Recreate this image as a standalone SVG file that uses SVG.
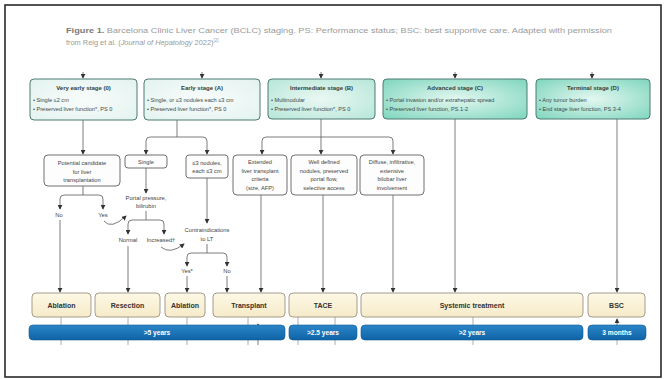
<svg xmlns="http://www.w3.org/2000/svg" width="667" height="379" viewBox="0 0 667 379">
<defs>
<style>
text{font-family:"Liberation Sans",Arial,sans-serif;}
.cap{font-size:7.4px;fill:#9a9a9a;}
.capb{font-weight:bold;fill:#7a7a7a;}
.st{stroke:#4d7a72;stroke-width:1;}
.stt{font-size:6px;font-weight:bold;fill:#2f3f3c;text-anchor:middle;}
.stb{font-size:5.6px;fill:#3e4a48;}
.nd{fill:#fdfdfd;stroke:#707070;stroke-width:1;}
.nt{font-size:5.7px;fill:#444;text-anchor:middle;}
.lb{font-size:5.8px;fill:#444;text-anchor:middle;}
.tr{fill:url(#cream);stroke:#9a9280;stroke-width:0.9;}
.tt{font-size:7px;font-weight:bold;fill:#333;text-anchor:middle;}
.bar{fill:url(#blue);stroke:#0d5a94;stroke-width:0.6;}
.bt{font-size:6.6px;font-weight:bold;fill:#fff;text-anchor:middle;}
.c{fill:none;stroke:#5a5a5a;stroke-width:0.8;}
.cg{fill:none;stroke:#8a8a8a;stroke-width:1.1;}
.stub{fill:none;stroke:#9a9a9a;stroke-width:0.8;}
</style>
<marker id="ah" viewBox="0 0 6 6" refX="5" refY="3" markerWidth="5" markerHeight="5" orient="auto-start-reverse" markerUnits="userSpaceOnUse">
<path d="M0,0 L6,3 L0,6 z" fill="#333"/>
</marker>
<linearGradient id="cream" x1="0" y1="0" x2="0" y2="1">
<stop offset="0" stop-color="#fdf8e6"/>
<stop offset="1" stop-color="#f6ebc9"/>
</linearGradient>
<linearGradient id="blue" x1="0" y1="0" x2="0" y2="1">
<stop offset="0" stop-color="#2a86c8"/>
<stop offset="1" stop-color="#0f63a6"/>
</linearGradient>
<radialGradient id="teal1" cx="0.5" cy="0.5" r="0.7">
<stop offset="0" stop-color="#f8fcfb"/>
<stop offset="1" stop-color="#e3f3ef"/>
</radialGradient>
<radialGradient id="teal2" cx="0.5" cy="0.5" r="0.7">
<stop offset="0" stop-color="#eaf8f3"/>
<stop offset="1" stop-color="#b6e6d8"/>
</radialGradient>
<radialGradient id="teal3" cx="0.5" cy="0.5" r="0.7">
<stop offset="0" stop-color="#e4f7f0"/>
<stop offset="1" stop-color="#7ed6bd"/>
</radialGradient>
</defs>
<rect x="0" y="0" width="667" height="379" fill="#fff"/>
<rect x="5" y="5" width="656" height="372" fill="#fff" stroke="#2a2a2a" stroke-width="1.6"/>

<g id="caption">
<text class="cap" x="66" y="33" textLength="546" lengthAdjust="spacingAndGlyphs"><tspan class="capb">Figure 1.</tspan> Barcelona Clinic Liver Cancer (BCLC) staging. PS: Performance status; BSC: best supportive care. Adapted with permission</text>
<text class="cap" x="66" y="45">from Reig et al. (<tspan font-style="italic">Journal of Hepatology</tspan> 2022)<tspan font-size="4.5px" dy="-3">[2]</tspan></text>
</g>

<g id="connectors">
<path class="c" d="M83,72 V78" marker-end="url(#ah)"/>
<path class="c" d="M202,72 V78" marker-end="url(#ah)"/>
<path class="c" d="M321,72 V78" marker-end="url(#ah)"/>
<path class="c" d="M455,72 V78" marker-end="url(#ah)"/>
<path class="c" d="M592,72 V78" marker-end="url(#ah)"/>
<path class="c" d="M83,120 V154" marker-end="url(#ah)"/>
<path class="c" d="M177,120 V137"/>
<path class="c" d="M146,154 V141 Q146,137 150,137 H203 Q207,137 207,141 V154" marker-start="url(#ah)" marker-end="url(#ah)"/>
<path class="c" d="M321,119 V154" marker-end="url(#ah)"/>
<path class="c" d="M262,154 V141 Q262,137 266,137 H389 Q393,137 393,141 V154" marker-start="url(#ah)" marker-end="url(#ah)"/>
<path class="c" d="M83,186 V195"/>
<path class="c" d="M60,209 V199 Q60,195 64,195 H99 Q103,195 103,199 V209" marker-start="url(#ah)" marker-end="url(#ah)"/>
<path class="c" d="M60,220 V292" marker-end="url(#ah)"/>
<path class="c" d="M104,221 Q111,230 126,216" marker-end="url(#ah)"/>
<path class="c" d="M146,168 V193" marker-end="url(#ah)"/>
<path class="c" d="M146,211 V220"/>
<path class="c" d="M128,234 V224 Q128,220 132,220 H160 Q164,220 164,224 V234" marker-start="url(#ah)" marker-end="url(#ah)"/>
<path class="c" d="M128,246 V292" marker-end="url(#ah)"/>
<path class="c" d="M161,247 Q170,255 184,244" marker-end="url(#ah)"/>
<path class="c" d="M207,178 V223" marker-end="url(#ah)"/>
<path class="c" d="M207,244 V253"/>
<path class="c" d="M187,266 V257 Q187,253 191,253 H223 Q227,253 227,257 V266" marker-start="url(#ah)" marker-end="url(#ah)"/>
<path class="c" d="M187,276 V292" marker-end="url(#ah)"/>
<path class="c" d="M227,276 V292" marker-end="url(#ah)"/>
<path class="cg" d="M261,195 V292" marker-end="url(#ah)"/>
<path class="cg" d="M323,195 V292" marker-end="url(#ah)"/>
<path class="cg" d="M393,195 V292" marker-end="url(#ah)"/>
<path class="cg" d="M455,119 V292" marker-end="url(#ah)"/>
<path class="cg" d="M617,119 V292" marker-end="url(#ah)"/>
<path class="stub" d="M61,317 V325 M61,340 V345 M128,317 V325 M128,340 V345 M187,317 V325 M187,340 V345 M248,317 V345 M298,317 V325 M298,340 V345 M335,317 V325 M335,340 V345 M473,317 V325 M473,340 V345 M617,340 V345"/>
<path class="c" d="M258,345 V324" marker-end="url(#ah)"/>
<path class="c" d="M617,325 V319" marker-end="url(#ah)"/>
</g>

<g id="stage0">
<rect class="st" x="30" y="79" width="107" height="41" rx="4" fill="url(#teal1)"/>
<text class="stt" x="83.5" y="90">Very early stage (0)</text>
<text class="stb" x="33" y="101.5">• Single ≤2 cm</text>
<text class="stb" x="33" y="110.5">• Preserved liver function*, PS 0</text>
</g>
<g id="stageA">
<rect class="st" x="144" y="79" width="116" height="41" rx="4" fill="url(#teal1)"/>
<text class="stt" x="202" y="90">Early stage (A)</text>
<text class="stb" x="147" y="101.5">• Single, or ≤3 nodules each ≤3 cm</text>
<text class="stb" x="147" y="110.5">• Preserved liver function*, PS 0</text>
</g>
<g id="stageB">
<rect class="st" x="268" y="79" width="107" height="40" rx="4" fill="url(#teal2)"/>
<text class="stt" x="321.5" y="90">Intermediate stage (B)</text>
<text class="stb" x="271" y="101.5">• Multinodular</text>
<text class="stb" x="271" y="110.5">• Preserved liver function*, PS 0</text>
</g>
<g id="stageC">
<rect class="st" x="383" y="79" width="144" height="40" rx="4" fill="url(#teal3)"/>
<text class="stt" x="455" y="90">Advanced stage (C)</text>
<text class="stb" x="386" y="101.5">• Portal invasion and/or extrahepatic spread</text>
<text class="stb" x="386" y="110.5">• Preserved liver function, PS 1-2</text>
</g>
<g id="stageD">
<rect class="st" x="536" y="79" width="114" height="40" rx="4" fill="url(#teal3)"/>
<text class="stt" x="593" y="90">Terminal stage (D)</text>
<text class="stb" x="539" y="101.5">• Any tumor burden</text>
<text class="stb" x="539" y="110.5">• End stage liver function, PS 3-4</text>
</g>

<g id="candidate">
<rect class="nd" x="44" y="155" width="76" height="31" rx="4"/>
<text class="nt" x="82" y="165">Potential candidate</text>
<text class="nt" x="82" y="173.5">for liver</text>
<text class="nt" x="82" y="182">transplantation</text>
</g>
<g id="single">
<rect class="nd" x="125" y="155" width="42" height="13" rx="3"/>
<text class="nt" x="146" y="164">Single</text>
</g>
<g id="nodules">
<rect class="nd" x="186" y="155" width="42" height="23" rx="3"/>
<text class="nt" x="207" y="164.5">≤3 nodules,</text>
<text class="nt" x="207" y="173">each ≤3 cm</text>
</g>
<g id="extended">
<rect class="nd" x="233" y="155" width="54" height="40" rx="4"/>
<text class="nt" x="260" y="164">Extended</text>
<text class="nt" x="260" y="172.5">liver transplant</text>
<text class="nt" x="260" y="181">criteria</text>
<text class="nt" x="260" y="189.5">(size, AFP)</text>
</g>
<g id="welldefined">
<rect class="nd" x="291" y="155" width="66" height="40" rx="4"/>
<text class="nt" x="324" y="164">Well defined</text>
<text class="nt" x="324" y="172.5">nodules, preserved</text>
<text class="nt" x="324" y="181">portal flow,</text>
<text class="nt" x="324" y="189.5">selective access</text>
</g>
<g id="diffuse">
<rect class="nd" x="360" y="155" width="64" height="40" rx="4"/>
<text class="nt" x="392" y="164">Diffuse, infiltrative,</text>
<text class="nt" x="392" y="172.5">extensive</text>
<text class="nt" x="392" y="181">bilobar liver</text>
<text class="nt" x="392" y="189.5">involvement</text>
</g>

<g id="labels">
<text class="lb" x="59" y="216.5">No</text>
<text class="lb" x="103" y="216.5">Yes</text>
<text class="lb" x="146" y="199.5">Portal pressure,</text>
<text class="lb" x="146" y="208">bilirubin</text>
<text class="lb" x="128" y="242">Normal</text>
<text class="lb" x="161" y="242">Increased†</text>
<text class="lb" x="207" y="231.5">Contraindications</text>
<text class="lb" x="207" y="241">to LT</text>
<text class="lb" x="187" y="273">Yes*</text>
<text class="lb" x="227" y="273">No</text>
</g>

<g id="ablation1"><rect class="tr" x="32" y="293" width="59" height="24" rx="4"/><text class="tt" x="61.5" y="307.5">Ablation</text></g>
<g id="resection"><rect class="tr" x="95" y="293" width="65" height="24" rx="4"/><text class="tt" x="127.5" y="307.5">Resection</text></g>
<g id="ablation2"><rect class="tr" x="165" y="293" width="40" height="24" rx="4"/><text class="tt" x="185" y="307.5">Ablation</text></g>
<g id="transplant"><rect class="tr" x="213" y="293" width="72" height="24" rx="4"/><text class="tt" x="249" y="307.5">Transplant</text></g>
<g id="tace"><rect class="tr" x="289" y="293" width="68" height="24" rx="4"/><text class="tt" x="323" y="307.5">TACE</text></g>
<g id="systemic"><rect class="tr" x="361" y="293" width="222" height="24" rx="4"/><text class="tt" x="472" y="307.5">Systemic treatment</text></g>
<g id="bsc"><rect class="tr" x="588" y="293" width="57" height="24" rx="4"/><text class="tt" x="616.5" y="307.5">BSC</text></g>

<g id="survival1"><rect class="bar" x="29" y="325" width="256" height="15" rx="4"/><text class="bt" x="157" y="335">&gt;5 years</text></g>
<g id="survival2"><rect class="bar" x="289" y="325" width="68" height="15" rx="4"/><text class="bt" x="323" y="335">&gt;2.5 years</text></g>
<g id="survival3"><rect class="bar" x="361" y="325" width="222" height="15" rx="4"/><text class="bt" x="472" y="335">&gt;2 years</text></g>
<g id="survival4"><rect class="bar" x="588" y="325" width="58" height="15" rx="4"/><text class="bt" x="617" y="335">3 months</text></g>
</svg>
